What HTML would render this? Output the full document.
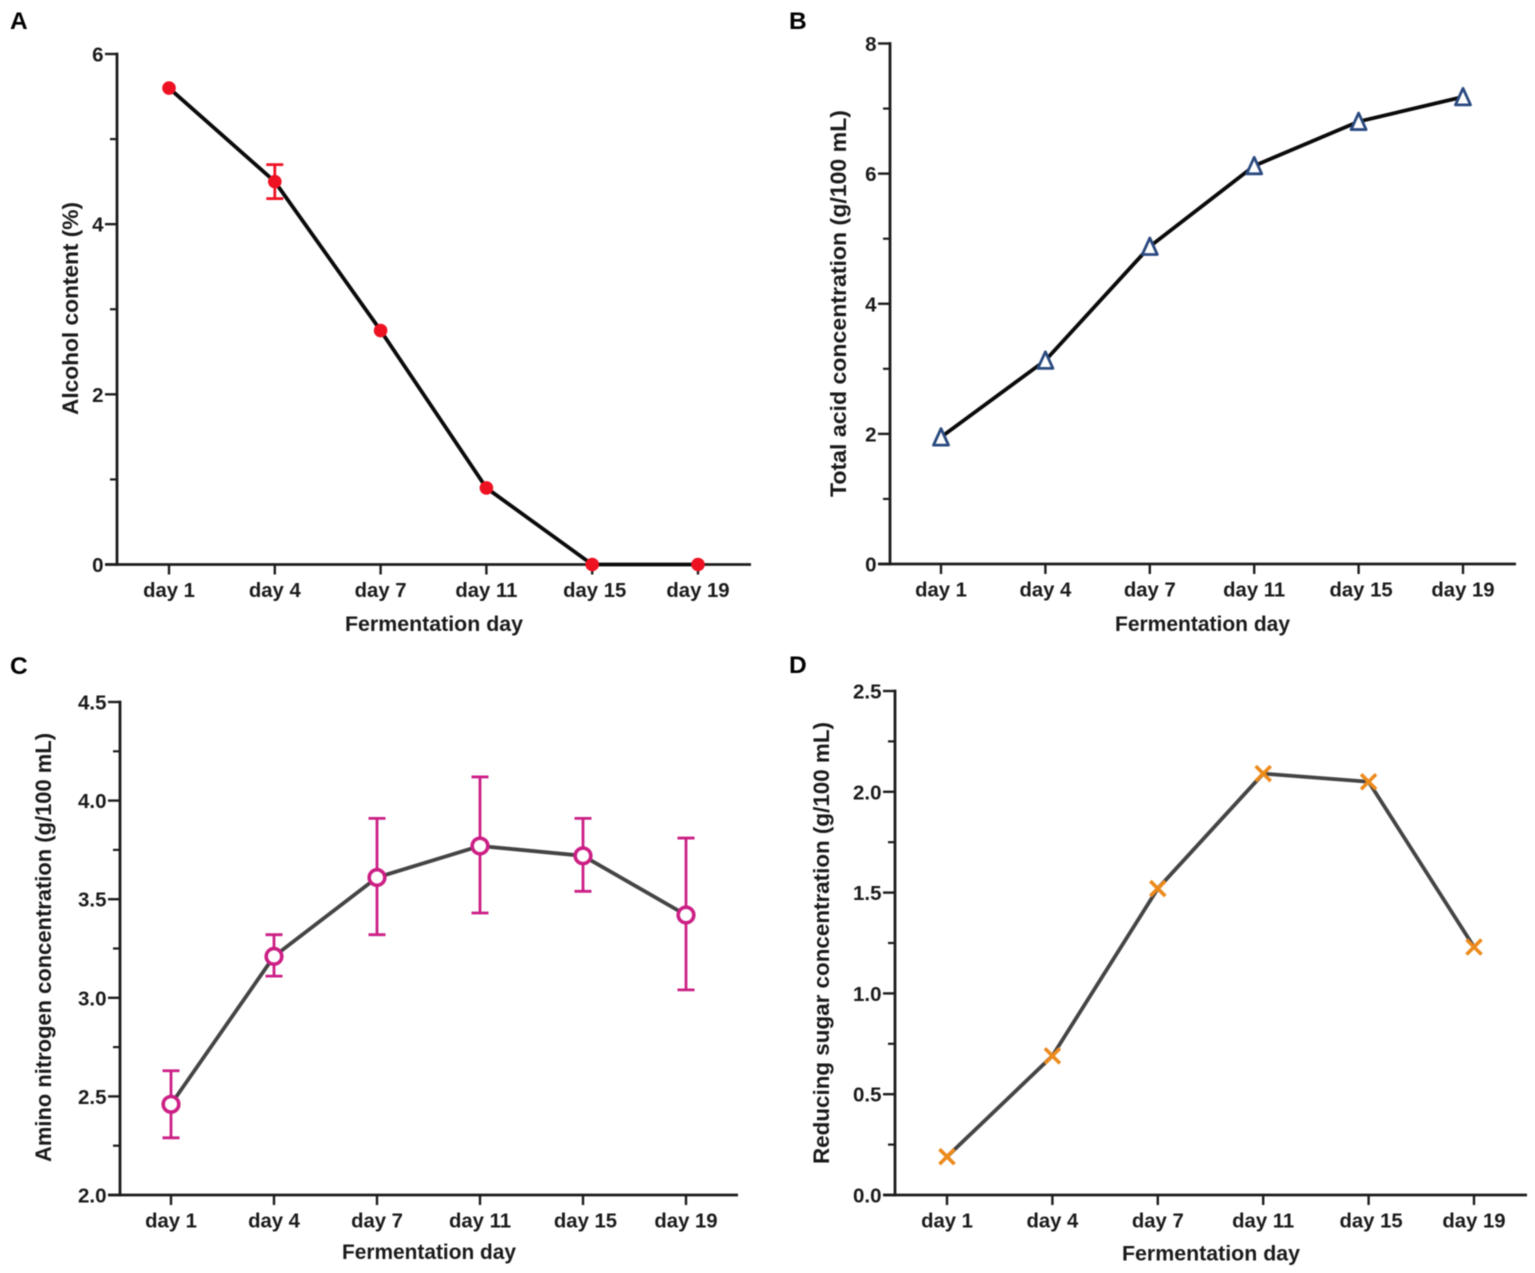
<!DOCTYPE html>
<html>
<head>
<meta charset="utf-8">
<style>
html,body{margin:0;padding:0;background:#fff;width:1535px;height:1273px;overflow:hidden}
svg{display:block;filter:blur(0.55px)}
text{font-family:"Liberation Sans",Arial,sans-serif;font-weight:bold;fill:#1a1a1a}
</style>
</head>
<body>
<svg id="figure" xmlns="http://www.w3.org/2000/svg" width="1535" height="1273" viewBox="0 0 1535 1273"></svg>
<script>
const categories = ["day 1", "day 4", "day 7", "day 11", "day 15", "day 19"];

const alcoholValues = [5.6, 4.5, 2.75, 0.9, 0, 0];
const alcoholUpper = [5.6, 4.7, 2.75, 0.9, 0, 0];
const alcoholLower = [5.6, 4.3, 2.75, 0.9, 0, 0];
const alcoholTicks = ["0", "2", "4", "6"];

const acidValues = [1.95, 3.13, 4.88, 6.12, 6.8, 7.18];
const acidTicks = ["0", "2", "4", "6", "8"];

const nitrogenValues = [2.46, 3.21, 3.61, 3.77, 3.72, 3.42];
const nitrogenUpper = [2.63, 3.32, 3.91, 4.12, 3.91, 3.81];
const nitrogenLower = [2.29, 3.11, 3.32, 3.43, 3.54, 3.04];
const nitrogenTicks = ["2.0", "2.5", "3.0", "3.5", "4.0", "4.5"];

const sugarValues = [0.19, 0.69, 1.52, 2.09, 2.05, 1.23];
const sugarTicks = ["0.0", "0.5", "1.0", "1.5", "2.0", "2.5"];

const svg = document.getElementById('figure');
const NS = 'http://www.w3.org/2000/svg';

function make(parent, tag, attrs, content) {
  const el = document.createElementNS(NS, tag);
  for (const k in attrs) el.setAttribute(k, attrs[k]);
  if (content !== undefined) el.textContent = content;
  parent.appendChild(el);
  return el;
}

function drawPanel(p) {
  const g = make(svg, 'g', {});
  
  

  const x = i => p.x0 + (p.x5 - p.x0) * i / (categories.length - 1);
  const yMin = parseFloat(p.ticks[0]);
  const yMax = parseFloat(p.ticks[p.ticks.length - 1]);
  const y = v => p.yBottom + (p.yTop - p.yBottom) * (v - yMin) / (yMax - yMin);

  const letter = make(g, 'text', {x: p.letterX, y: p.letterY, 'font-size': 24.5, style: 'fill:#000'}, p.letter);
  
  

  const yAxis = make(g, 'line', {x1: p.axisX, x2: p.axisX, y1: p.yTop - 1.4, y2: p.yBottom + 1.4, stroke: '#1c1c1c', 'stroke-width': 2.8});
  
  

  const xAxis = make(g, 'line', {x1: p.axisX - 12, x2: p.axisEnd, y1: p.yBottom, y2: p.yBottom, stroke: '#1c1c1c', 'stroke-width': 2.8});
  
  

  p.ticks.forEach((t, i) => {
    const v = parseFloat(t);
    const major = make(g, 'line', {x1: p.axisX - 12, x2: p.axisX, y1: y(v), y2: y(v), stroke: '#1c1c1c', 'stroke-width': 2.4});
    
    
    const label = make(g, 'text', {x: p.axisX - 13.5, y: y(v) + 7.5, 'font-size': p.tickSize, 'text-anchor': 'end'}, t);
    
    
    if (i < p.ticks.length - 1) {
      const mid = (v + parseFloat(p.ticks[i + 1])) / 2;
      const minor = make(g, 'line', {x1: p.axisX - 7, x2: p.axisX, y1: y(mid), y2: y(mid), stroke: '#1c1c1c', 'stroke-width': 2.2});
      
      
    }
  });

  categories.forEach((c, i) => {
    const tick = make(g, 'line', {x1: x(i), x2: x(i), y1: p.yBottom, y2: p.yBottom + 10, stroke: '#1c1c1c', 'stroke-width': 2.4});
    
    
    const nudge = c === 'day 15' ? 2.5 : 0;
    const label = make(g, 'text', {x: x(i) + nudge, y: p.yBottom + 32.5, 'font-size': 20.3, 'text-anchor': 'middle'}, c);
    
    
  });

  const xTitle = make(g, 'text', {x: p.xTitleX, y: p.xTitleY, 'font-size': 21.5, 'text-anchor': 'middle', textLength: p.xTitleLength, lengthAdjust: 'spacingAndGlyphs'}, 'Fermentation day');
  
  

  const yTitle = make(g, 'text', {transform: 'translate(' + p.yTitleX + ',' + p.yTitleY + ') rotate(-90)', 'font-size': 22, 'text-anchor': 'middle', textLength: p.yTitleLength, lengthAdjust: 'spacingAndGlyphs'}, p.yTitle);
  
  

  const line = make(g, 'polyline', {
    points: p.values.map((v, i) => x(i) + ',' + y(v)).join(' '),
    fill: 'none', stroke: p.lineColor, 'stroke-width': 3.8, 'stroke-linejoin': 'round'
  });
  
  

  if (p.upper) {
    p.values.forEach((v, i) => {
      if (p.upper[i] === p.lower[i]) return;
      const e = make(g, 'path', {
        d: 'M' + (x(i) - 8.5) + ' ' + y(p.upper[i]) + 'H' + (x(i) + 8.5) +
           'M' + x(i) + ' ' + y(p.upper[i]) + 'V' + y(p.lower[i]) +
           'M' + (x(i) - 8.5) + ' ' + y(p.lower[i]) + 'H' + (x(i) + 8.5),
        fill: 'none', stroke: p.color, 'stroke-width': 2.8
      });
      
      
    });
  }

  p.values.forEach((v, i) => {
    const cx = x(i), cy = y(v);
    let m;
    if (p.marker === 'dot') {
      m = make(g, 'circle', {cx: cx, cy: cy, r: 6.8, fill: p.color});
    } else if (p.marker === 'ring') {
      m = make(g, 'circle', {cx: cx, cy: cy, r: 7.8, fill: '#fff', stroke: p.color, 'stroke-width': 3.6});
    } else if (p.marker === 'triangle') {
      m = make(g, 'path', {
        d: 'M' + cx + ' ' + (cy - 8.5) + 'L' + (cx + 7.5) + ' ' + (cy + 8) + 'H' + (cx - 7.5) + 'Z',
        fill: '#fff', stroke: p.color, 'stroke-width': 2.8, 'stroke-linejoin': 'round'
      });
    } else {
      m = make(g, 'path', {
        d: 'M' + (cx - 7.5) + ' ' + (cy - 7.5) + 'L' + (cx + 7.5) + ' ' + (cy + 7.5) +
           'M' + (cx + 7.5) + ' ' + (cy - 7.5) + 'L' + (cx - 7.5) + ' ' + (cy + 7.5),
        fill: 'none', stroke: p.color, 'stroke-width': 3.6
      });
    }
    
    
  });
}

drawPanel({
  letter: 'A', letterX: 10, letterY: 29,
  axisX: 117, axisEnd: 751, yTop: 54, yBottom: 564.5, x0: 169, x5: 698,
  ticks: alcoholTicks, tickSize: 20.5,
  values: alcoholValues, upper: alcoholUpper, lower: alcoholLower,
  color: '#ee1122', lineColor: '#0a0a0a', marker: 'dot',
  yTitle: 'Alcohol content (%)', yTitleX: 78, yTitleY: 308.5, yTitleLength: 213,
  xTitleX: 434, xTitleY: 631, xTitleLength: 178
});
drawPanel({
  letter: 'B', letterX: 789, letterY: 29,
  axisX: 890, axisEnd: 1516, yTop: 43.5, yBottom: 564, x0: 941, x5: 1463,
  ticks: acidTicks, tickSize: 20.5,
  values: acidValues,
  color: '#2a4a80', lineColor: '#0a0a0a', marker: 'triangle',
  yTitle: 'Total acid concentration (g/100 mL)', yTitleX: 846, yTitleY: 303.5, yTitleLength: 387,
  xTitleX: 1202.5, xTitleY: 631, xTitleLength: 175
});
drawPanel({
  letter: 'C', letterX: 10, letterY: 674,
  axisX: 120, axisEnd: 738, yTop: 702, yBottom: 1195, x0: 171, x5: 686,
  ticks: nitrogenTicks, tickSize: 20.5,
  values: nitrogenValues, upper: nitrogenUpper, lower: nitrogenLower,
  color: '#cc1f85', lineColor: '#444', marker: 'ring',
  yTitle: 'Amino nitrogen concentration (g/100 mL)', yTitleX: 51, yTitleY: 947.5, yTitleLength: 429,
  xTitleX: 429, xTitleY: 1259, xTitleLength: 174
});
drawPanel({
  letter: 'D', letterX: 789, letterY: 673,
  axisX: 895, axisEnd: 1527, yTop: 691, yBottom: 1195, x0: 947, x5: 1474,
  ticks: sugarTicks, tickSize: 20.5,
  values: sugarValues,
  color: '#ec8a1c', lineColor: '#444', marker: 'cross',
  yTitle: 'Reducing sugar concentration (g/100 mL)', yTitleX: 829, yTitleY: 943, yTitleLength: 442,
  xTitleX: 1211, xTitleY: 1260.5, xTitleLength: 178
});
</script>
</body>
</html>
